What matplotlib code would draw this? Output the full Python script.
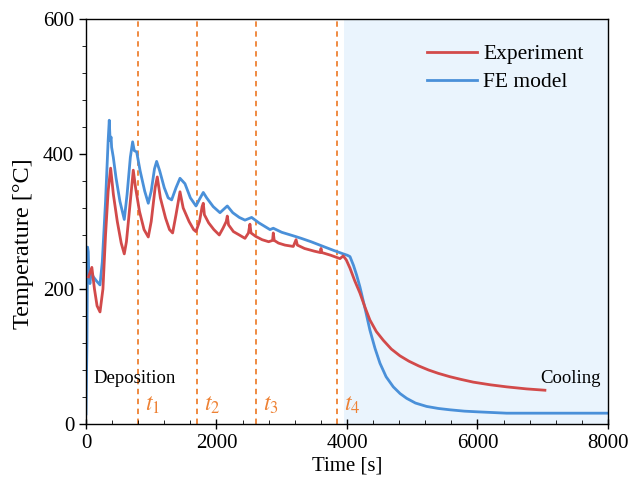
import matplotlib
matplotlib.use("Agg")
import matplotlib.pyplot as plt
from matplotlib.ticker import MultipleLocator

plt.rcParams['font.family'] = ['Liberation Serif', 'DejaVu Serif']
plt.rcParams['mathtext.fontset'] = 'stix'

# Experiment (time [s], temperature [°C])
exp_t = [40, 90, 130, 170, 215, 260, 300, 340, 378, 420, 480, 540, 587, 620, 680, 725,
         760, 820, 890, 955, 1000, 1060, 1093, 1140, 1220, 1280, 1328, 1380, 1441, 1490,
         1580, 1650, 1686, 1740, 1780, 1798, 1815, 1880, 1960, 2043, 2100, 2150, 2166,
         2185, 2260, 2350, 2437, 2490, 2513, 2530, 2600, 2700, 2800, 2860, 2871, 2885,
         2950, 3050, 3177, 3220, 3240, 3350, 3500, 3590, 3602, 3615, 3750, 3893, 3943,
         3990, 4046, 4120, 4199, 4280, 4352, 4450, 4557, 4680, 4812, 4950, 5100, 5250,
         5400, 5579, 5750, 5936, 6200, 6447, 6750, 7034]
exp_T = [218, 232, 200, 175, 166, 200, 280, 345, 379, 340, 300, 268, 252, 270, 330, 376,
         350, 315, 288, 277, 300, 350, 366, 335, 305, 288, 283, 310, 344, 320,
         300, 288, 285, 300, 322, 327, 310, 298, 288, 280, 290, 300, 308,
         295, 285, 280, 275, 283, 296, 283, 278, 273, 270, 272, 283, 272,
         268, 265, 263, 273, 265, 260, 256, 254, 260, 254, 250, 245, 249,
         243, 231, 212, 194, 172, 154, 137, 124, 111, 101, 93, 86, 80,
         75, 70, 66, 62, 58, 55, 52, 50]

# FE model
fe_t = [0, 15, 25, 35, 45, 61, 80, 112, 160, 215, 250, 300, 340, 357, 370, 385, 393,
        419, 460, 520, 587, 630, 680, 715, 740, 777, 830, 900, 955, 1000, 1050, 1083,
        1130, 1200, 1260, 1313, 1380, 1441, 1517, 1600, 1686, 1740, 1798, 1850, 1950,
        2054, 2110, 2166, 2250, 2350, 2437, 2539, 2650, 2820, 2871, 3000, 3203, 3300,
        3450, 3637, 3800, 3943, 4005, 4046, 4100, 4150, 4199, 4280, 4352, 4430, 4506,
        4600, 4710, 4815, 4915, 5050, 5221, 5400, 5579, 5800, 6000, 6447, 7000, 8000]
fe_T = [15, 120, 262, 255, 215, 208, 225, 218, 212, 206, 240, 330, 420, 450, 420, 425, 410,
        395, 365, 330, 303, 340, 395, 418, 405, 403, 375, 345, 327, 345, 378, 389,
        375, 350, 335, 332, 350, 364, 356, 335, 323, 333, 343, 335, 322,
        313, 318, 323, 313, 306, 302, 306, 298, 288, 290, 284, 278, 275,
        270, 263, 257, 252, 250, 248, 235, 220, 203, 170, 139, 112, 90,
        70, 55, 45, 38, 31, 26, 23, 21, 19, 18, 16, 16, 16]

event_times = [797, 1695, 2600, 3850]
event_labels = ['$t_1$', '$t_2$', '$t_3$', '$t_4$']
cooling_start = 3950

red = '#D24A4A'
blue = '#4A90D9'
orange = '#EE8133'

fig = plt.figure(figsize=(6.44, 4.93), dpi=100)
ax = fig.add_axes([0.1335, 0.14, 0.8105, 0.8215])

ax.axvspan(cooling_start, 8000, color='#EAF4FD', zorder=0, lw=0)
for xt, lab in zip(event_times, event_labels):
    ax.axvline(xt, color=orange, ls=(0, (3, 2.5)), lw=1.3, zorder=1)
    ax.text(xt + 110, 28, lab, color=orange, fontsize=17, va='center', ha='left')

ax.plot(exp_t, exp_T, color=red, lw=2.0, label='Experiment', zorder=3)
ax.plot(fe_t, fe_T, color=blue, lw=2.0, label='FE model', zorder=2)

ax.text(107, 68, 'Deposition', fontsize=13.5, va='center', ha='left')
ax.text(7893, 67, 'Cooling', fontsize=13.5, va='center', ha='right')

ax.set_xlim(0, 8000)
ax.set_ylim(0, 600)
ax.xaxis.set_major_locator(MultipleLocator(2000))
ax.xaxis.set_minor_locator(MultipleLocator(400))
ax.yaxis.set_major_locator(MultipleLocator(200))
ax.yaxis.set_minor_locator(MultipleLocator(40))
ax.tick_params(axis='both', which='major', labelsize=15, length=5, width=1)
ax.tick_params(axis='x', which='major', direction='inout', length=7)
ax.tick_params(axis='x', which='minor', direction='in', length=3)
ax.tick_params(axis='y', which='minor', direction='out', length=3)
for s in ax.spines.values():
    s.set_linewidth(1.0)

ax.set_xlabel('Time [s]', fontsize=15, labelpad=3)
ax.set_ylabel('Temperature [°C]', fontsize=17.5, labelpad=4)
ax.yaxis.set_label_coords(-0.1, 0.446)

leg = ax.legend(loc='upper right', bbox_to_anchor=(0.99, 0.985), frameon=False,
                fontsize=15.5, handlelength=2.3, handletextpad=0.3, labelspacing=0.35)

fig.savefig('out.png', dpi=100)
